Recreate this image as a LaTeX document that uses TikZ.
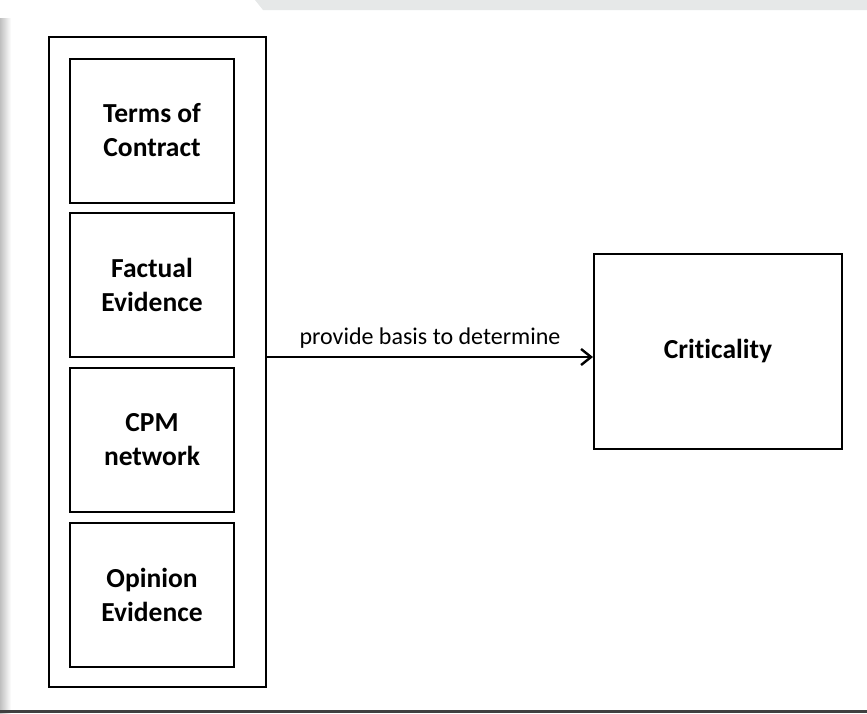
\documentclass[tikz,border=0pt]{standalone}
\usepackage{fontspec}
\setmainfont[Ligatures=NoCommon]{Carlito}
\usetikzlibrary{arrows.meta}
\definecolor{band}{HTML}{E6E8E8}
\begin{document}
\begin{tikzpicture}[x=1pt,y=-1pt,
  box/.style={draw=black,line width=2pt,minimum width=164pt,minimum height=144pt,inner sep=0pt,align=center,font=\fontsize{27.5}{34}\selectfont\bfseries},
  outer/.style={draw=black,line width=2pt},
  conn/.style={line width=2.2pt,-{Straight Barb[length=10pt,width=16pt,line width=2.4pt]}}]
\useasboundingbox (0,0) rectangle (867,713);
\fill[white] (0,0) rectangle (867,713);
% screenshot edges
\fill[band] (255,0) -- (867,0) -- (867,10) -- (263,10) -- cycle;
\shade[left color=black!25,right color=white] (0,18) rectangle (11,713);
\fill[black!75] (0,710) rectangle (867,713);
% outer container
\node[outer,minimum width=217pt,minimum height=650pt,inner sep=0pt] (outer) at (157.5,362) {};
\node[box] (t) at (152,130.5) {Terms of\\Contract};
\node[box] (f) at (152,285) {Factual\\Evidence};
\node[box] (c) at (152,440) {CPM\\network};
\node[box] (o) at (152,594.5) {Opinion\\Evidence};
\node[box,minimum width=248pt,minimum height=195pt] (crit) at (718,351.5) {Criticality};
\draw[conn] (outer.east |- 0,357) -- node[above=4pt,font=\fontsize{24}{28}\selectfont] {provide basis to determine} (crit.west |- 0,357);
\end{tikzpicture}
\end{document}
